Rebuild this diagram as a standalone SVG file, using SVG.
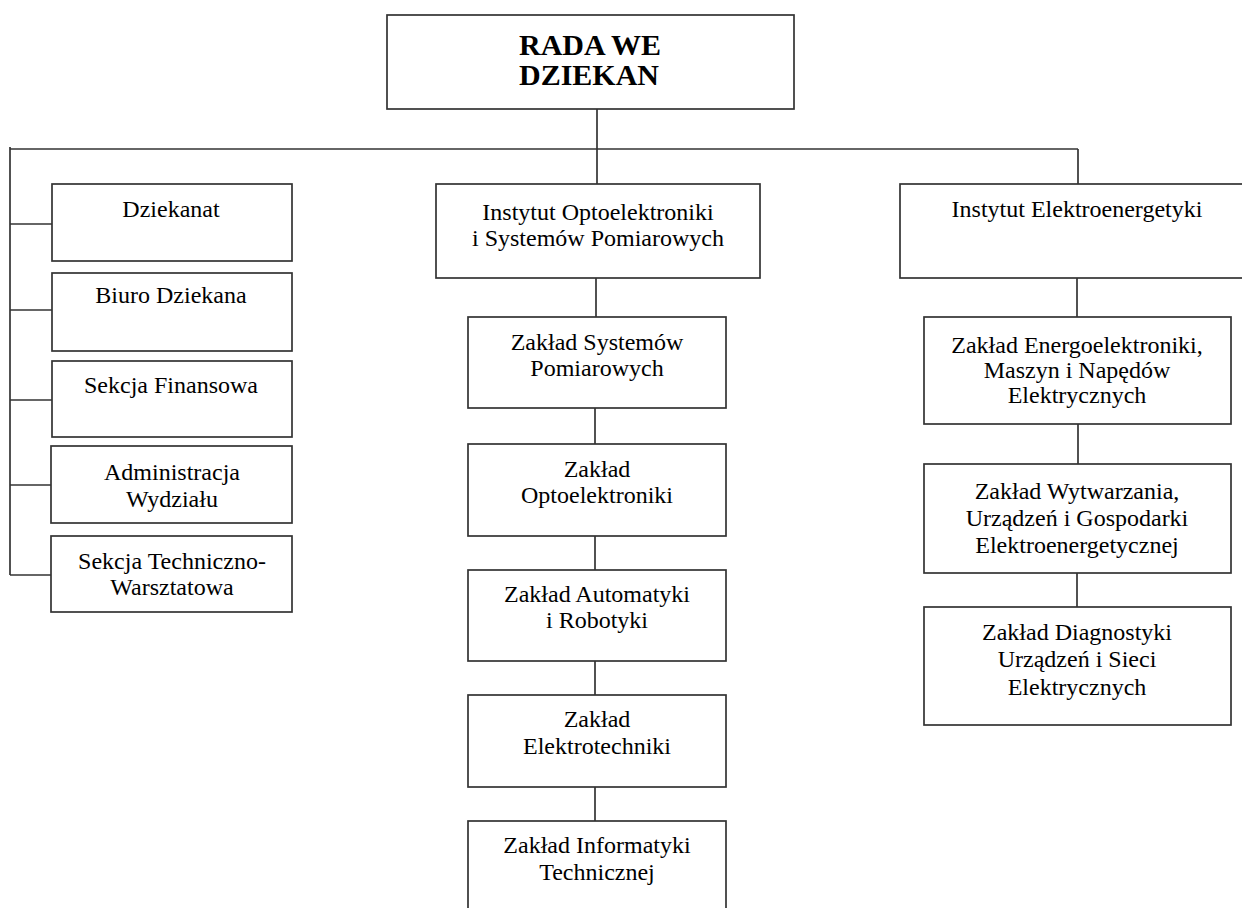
<svg xmlns="http://www.w3.org/2000/svg" width="1242" height="908" viewBox="0 0 1242 908">
<style>
.box{fill:#fff;stroke:#333;stroke-width:1.7}
.ln{fill:none;stroke:#333;stroke-width:1.7}
.t{font-family:"Liberation Serif","Times New Roman",serif;font-size:24px;fill:#000;text-anchor:middle}
.tb{font-family:"Liberation Serif","Times New Roman",serif;font-size:30px;font-weight:bold;fill:#000;text-anchor:middle}
</style>
<rect width="1242" height="908" fill="#fff"/>
<g id="connectors">
<line class="ln" x1="597" y1="109" x2="597" y2="184"/>
<line class="ln" x1="10" y1="149" x2="1078" y2="149"/>
<line class="ln" x1="1078" y1="149" x2="1078" y2="184"/>
<line class="ln" x1="10" y1="147" x2="10" y2="575"/>
<line class="ln" x1="10" y1="224" x2="52" y2="224"/>
<line class="ln" x1="10" y1="310" x2="52" y2="310"/>
<line class="ln" x1="10" y1="400" x2="52" y2="400"/>
<line class="ln" x1="10" y1="485" x2="51" y2="485"/>
<line class="ln" x1="10" y1="575" x2="51" y2="575"/>
<line class="ln" x1="596" y1="278" x2="596" y2="317"/>
<line class="ln" x1="595" y1="408" x2="595" y2="444"/>
<line class="ln" x1="595" y1="536" x2="595" y2="570"/>
<line class="ln" x1="595" y1="661" x2="595" y2="695"/>
<line class="ln" x1="595" y1="787" x2="595" y2="821"/>
<line class="ln" x1="1077" y1="278" x2="1077" y2="317"/>
<line class="ln" x1="1078" y1="424" x2="1078" y2="464"/>
<line class="ln" x1="1077" y1="573" x2="1077" y2="607"/>
</g>
<g id="rada">
<rect class="box" x="387" y="15" width="407" height="94"/>
<text class="tb" x="590" y="55">RADA WE</text>
<text class="tb" x="589" y="85">DZIEKAN</text>
</g>
<g id="dziekanat">
<rect class="box" x="52" y="184" width="240" height="77"/>
<text class="t" x="171" y="217">Dziekanat</text>
</g>
<g id="biuro">
<rect class="box" x="52" y="273" width="240" height="78"/>
<text class="t" x="171" y="303">Biuro Dziekana</text>
</g>
<g id="finanse">
<rect class="box" x="52" y="361" width="240" height="76"/>
<text class="t" x="171" y="393">Sekcja Finansowa</text>
</g>
<g id="administracja">
<rect class="box" x="51" y="446" width="241" height="77"/>
<text class="t" x="172" y="480">Administracja</text>
<text class="t" x="172" y="507">Wydziału</text>
</g>
<g id="techniczna">
<rect class="box" x="51" y="536" width="241" height="76"/>
<text class="t" x="172" y="569">Sekcja Techniczno-</text>
<text class="t" x="172" y="595">Warsztatowa</text>
</g>
<g id="inst-opto">
<rect class="box" x="436" y="184" width="324" height="94"/>
<text class="t" x="598" y="220">Instytut Optoelektroniki</text>
<text class="t" x="598" y="246">i Systemów Pomiarowych</text>
</g>
<g id="zsp">
<rect class="box" x="468" y="317" width="258" height="91"/>
<text class="t" x="597" y="350">Zakład Systemów</text>
<text class="t" x="597" y="376">Pomiarowych</text>
</g>
<g id="zopto">
<rect class="box" x="468" y="444" width="258" height="92"/>
<text class="t" x="597" y="477">Zakład</text>
<text class="t" x="597" y="503">Optoelektroniki</text>
</g>
<g id="zauto">
<rect class="box" x="468" y="570" width="258" height="91"/>
<text class="t" x="597" y="602">Zakład Automatyki</text>
<text class="t" x="597" y="628">i Robotyki</text>
</g>
<g id="zelektro">
<rect class="box" x="468" y="695" width="258" height="92"/>
<text class="t" x="597" y="727">Zakład</text>
<text class="t" x="597" y="754">Elektrotechniki</text>
</g>
<g id="zinfo">
<rect class="box" x="468" y="821" width="258" height="100"/>
<text class="t" x="597" y="853">Zakład Informatyki</text>
<text class="t" x="597" y="880">Technicznej</text>
</g>
<g id="inst-energ">
<rect class="box" x="900" y="184" width="356" height="94"/>
<text class="t" x="1077" y="217">Instytut Elektroenergetyki</text>
</g>
<g id="zenergo">
<rect class="box" x="924" y="317" width="307" height="107"/>
<text class="t" x="1077" y="353">Zakład Energoelektroniki,</text>
<text class="t" x="1077" y="378">Maszyn i Napędów</text>
<text class="t" x="1077" y="403">Elektrycznych</text>
</g>
<g id="zwytw">
<rect class="box" x="924" y="464" width="307" height="109"/>
<text class="t" x="1077" y="499">Zakład Wytwarzania,</text>
<text class="t" x="1077" y="526">Urządzeń i Gospodarki</text>
<text class="t" x="1077" y="553">Elektroenergetycznej</text>
</g>
<g id="zdiag">
<rect class="box" x="924" y="607" width="307" height="118"/>
<text class="t" x="1077" y="640">Zakład Diagnostyki</text>
<text class="t" x="1077" y="667">Urządzeń i Sieci</text>
<text class="t" x="1077" y="695">Elektrycznych</text>
</g>
</svg>
